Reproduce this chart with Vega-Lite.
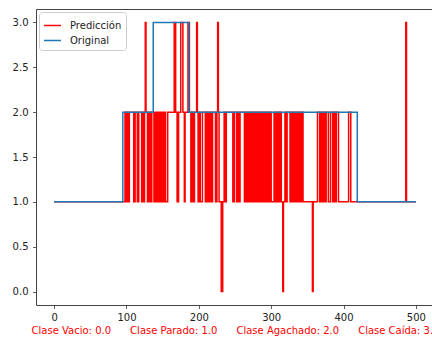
{
  "$schema": "https://vega.github.io/schema/vega-lite/v6.json",
  "width": 398,
  "height": 296,
  "autosize": {"type": "none"},
  "padding": {"left": 36, "top": 9, "right": 0, "bottom": 33},
  "config": {
    "font": "DejaVu Sans",
    "view": {"stroke": "#444", "strokeWidth": 1},
    "axis": {
      "grid": false,
      "domain": false,
      "tickColor": "#333",
      "tickSize": 3.5,
      "tickWidth": 0.8,
      "labelFontSize": 10,
      "labelColor": "#222",
      "labelFont": "DejaVu Sans"
    }
  },
  "encoding": {
    "x": {
      "field": "muestra",
      "type": "quantitative",
      "scale": {"domain": [-25, 525], "nice": false, "zero": false},
      "axis": {
        "values": [0, 100, 200, 300, 400, 500],
        "labelPadding": 3.5,
        "title": "Clase Vacio: 0.0\u00a0\u00a0\u00a0\u00a0\u00a0\u00a0Clase Parado: 1.0\u00a0\u00a0\u00a0\u00a0\u00a0\u00a0Clase Agachado: 2.0\u00a0\u00a0\u00a0\u00a0\u00a0\u00a0Clase Caída: 3.0",
        "titleColor": "red",
        "titleFontSize": 10,
        "titleFontWeight": "normal",
        "titleFont": "DejaVu Sans",
        "titlePadding": 3
      }
    },
    "y": {
      "field": "clase",
      "type": "quantitative",
      "scale": {"domain": [-0.15, 3.15], "nice": false, "zero": false},
      "axis": {
        "values": [0, 0.5, 1, 1.5, 2, 2.5, 3],
        "format": ".1f",
        "labelPadding": 4.5,
        "title": null
      }
    },
    "color": {
      "field": "serie",
      "type": "nominal",
      "scale": {"domain": ["Predicción", "Original"], "range": ["#ff0000", "#1f77b4"]},
      "legend": {
        "title": null,
        "orient": "top-left",
        "offset": 3,
        "fillColor": "white",
        "strokeColor": "#cccccc",
        "cornerRadius": 3,
        "padding": 4,
        "symbolType": "stroke",
        "symbolSize": 289,
        "symbolStrokeWidth": 1.5,
        "labelFontSize": 10,
        "labelColor": "#222",
        "labelFont": "DejaVu Sans",
        "labelOffset": 8,
        "rowPadding": 0
      }
    }
  },
  "layer": [
    {
      "data": {
        "values": [
          {"serie": "Predicción", "muestra": 0, "clase": 1},
          {"serie": "Predicción", "muestra": 98, "clase": 2},
          {"serie": "Predicción", "muestra": 99, "clase": 1},
          {"serie": "Predicción", "muestra": 100, "clase": 2},
          {"serie": "Predicción", "muestra": 102, "clase": 1},
          {"serie": "Predicción", "muestra": 104, "clase": 2},
          {"serie": "Predicción", "muestra": 110, "clase": 1},
          {"serie": "Predicción", "muestra": 112, "clase": 2},
          {"serie": "Predicción", "muestra": 115, "clase": 1},
          {"serie": "Predicción", "muestra": 117, "clase": 2},
          {"serie": "Predicción", "muestra": 121, "clase": 1},
          {"serie": "Predicción", "muestra": 122, "clase": 2},
          {"serie": "Predicción", "muestra": 123, "clase": 1},
          {"serie": "Predicción", "muestra": 125, "clase": 2},
          {"serie": "Predicción", "muestra": 126, "clase": 3},
          {"serie": "Predicción", "muestra": 127, "clase": 2},
          {"serie": "Predicción", "muestra": 129, "clase": 1},
          {"serie": "Predicción", "muestra": 131, "clase": 2},
          {"serie": "Predicción", "muestra": 133, "clase": 1},
          {"serie": "Predicción", "muestra": 135, "clase": 2},
          {"serie": "Predicción", "muestra": 138, "clase": 1},
          {"serie": "Predicción", "muestra": 139, "clase": 2},
          {"serie": "Predicción", "muestra": 140, "clase": 1},
          {"serie": "Predicción", "muestra": 142, "clase": 2},
          {"serie": "Predicción", "muestra": 144, "clase": 1},
          {"serie": "Predicción", "muestra": 146, "clase": 2},
          {"serie": "Predicción", "muestra": 148, "clase": 1},
          {"serie": "Predicción", "muestra": 149, "clase": 2},
          {"serie": "Predicción", "muestra": 150, "clase": 1},
          {"serie": "Predicción", "muestra": 152, "clase": 2},
          {"serie": "Predicción", "muestra": 154, "clase": 1},
          {"serie": "Predicción", "muestra": 157, "clase": 2},
          {"serie": "Predicción", "muestra": 166, "clase": 3},
          {"serie": "Predicción", "muestra": 168, "clase": 2},
          {"serie": "Predicción", "muestra": 170, "clase": 1},
          {"serie": "Predicción", "muestra": 172, "clase": 2},
          {"serie": "Predicción", "muestra": 175, "clase": 3},
          {"serie": "Predicción", "muestra": 178, "clase": 2},
          {"serie": "Predicción", "muestra": 180, "clase": 1},
          {"serie": "Predicción", "muestra": 181, "clase": 2},
          {"serie": "Predicción", "muestra": 185, "clase": 3},
          {"serie": "Predicción", "muestra": 187, "clase": 2},
          {"serie": "Predicción", "muestra": 189, "clase": 1},
          {"serie": "Predicción", "muestra": 191, "clase": 2},
          {"serie": "Predicción", "muestra": 192, "clase": 1},
          {"serie": "Predicción", "muestra": 194, "clase": 2},
          {"serie": "Predicción", "muestra": 197, "clase": 3},
          {"serie": "Predicción", "muestra": 198, "clase": 2},
          {"serie": "Predicción", "muestra": 199, "clase": 1},
          {"serie": "Predicción", "muestra": 201, "clase": 2},
          {"serie": "Predicción", "muestra": 202, "clase": 1},
          {"serie": "Predicción", "muestra": 205, "clase": 2},
          {"serie": "Predicción", "muestra": 209, "clase": 1},
          {"serie": "Predicción", "muestra": 210, "clase": 2},
          {"serie": "Predicción", "muestra": 211, "clase": 1},
          {"serie": "Predicción", "muestra": 212, "clase": 2},
          {"serie": "Predicción", "muestra": 214, "clase": 1},
          {"serie": "Predicción", "muestra": 216, "clase": 2},
          {"serie": "Predicción", "muestra": 217, "clase": 1},
          {"serie": "Predicción", "muestra": 219, "clase": 2},
          {"serie": "Predicción", "muestra": 223, "clase": 1},
          {"serie": "Predicción", "muestra": 225, "clase": 2},
          {"serie": "Predicción", "muestra": 226, "clase": 3},
          {"serie": "Predicción", "muestra": 227, "clase": 2},
          {"serie": "Predicción", "muestra": 228, "clase": 1},
          {"serie": "Predicción", "muestra": 231, "clase": 0},
          {"serie": "Predicción", "muestra": 233, "clase": 1},
          {"serie": "Predicción", "muestra": 235, "clase": 2},
          {"serie": "Predicción", "muestra": 236, "clase": 1},
          {"serie": "Predicción", "muestra": 238, "clase": 2},
          {"serie": "Predicción", "muestra": 247, "clase": 1},
          {"serie": "Predicción", "muestra": 249, "clase": 2},
          {"serie": "Predicción", "muestra": 252, "clase": 1},
          {"serie": "Predicción", "muestra": 254, "clase": 2},
          {"serie": "Predicción", "muestra": 255, "clase": 1},
          {"serie": "Predicción", "muestra": 257, "clase": 2},
          {"serie": "Predicción", "muestra": 263, "clase": 1},
          {"serie": "Predicción", "muestra": 265, "clase": 2},
          {"serie": "Predicción", "muestra": 266, "clase": 1},
          {"serie": "Predicción", "muestra": 267, "clase": 2},
          {"serie": "Predicción", "muestra": 269, "clase": 1},
          {"serie": "Predicción", "muestra": 271, "clase": 2},
          {"serie": "Predicción", "muestra": 272, "clase": 1},
          {"serie": "Predicción", "muestra": 273, "clase": 2},
          {"serie": "Predicción", "muestra": 275, "clase": 1},
          {"serie": "Predicción", "muestra": 277, "clase": 2},
          {"serie": "Predicción", "muestra": 278, "clase": 1},
          {"serie": "Predicción", "muestra": 279, "clase": 2},
          {"serie": "Predicción", "muestra": 281, "clase": 1},
          {"serie": "Predicción", "muestra": 283, "clase": 2},
          {"serie": "Predicción", "muestra": 284, "clase": 1},
          {"serie": "Predicción", "muestra": 285, "clase": 2},
          {"serie": "Predicción", "muestra": 287, "clase": 1},
          {"serie": "Predicción", "muestra": 289, "clase": 2},
          {"serie": "Predicción", "muestra": 291, "clase": 1},
          {"serie": "Predicción", "muestra": 293, "clase": 2},
          {"serie": "Predicción", "muestra": 294, "clase": 1},
          {"serie": "Predicción", "muestra": 296, "clase": 2},
          {"serie": "Predicción", "muestra": 297, "clase": 1},
          {"serie": "Predicción", "muestra": 299, "clase": 2},
          {"serie": "Predicción", "muestra": 300, "clase": 1},
          {"serie": "Predicción", "muestra": 304, "clase": 2},
          {"serie": "Predicción", "muestra": 305, "clase": 1},
          {"serie": "Predicción", "muestra": 307, "clase": 2},
          {"serie": "Predicción", "muestra": 308, "clase": 1},
          {"serie": "Predicción", "muestra": 310, "clase": 2},
          {"serie": "Predicción", "muestra": 311, "clase": 1},
          {"serie": "Predicción", "muestra": 313, "clase": 2},
          {"serie": "Predicción", "muestra": 314, "clase": 1},
          {"serie": "Predicción", "muestra": 316, "clase": 0},
          {"serie": "Predicción", "muestra": 317, "clase": 1},
          {"serie": "Predicción", "muestra": 319, "clase": 2},
          {"serie": "Predicción", "muestra": 320, "clase": 1},
          {"serie": "Predicción", "muestra": 322, "clase": 2},
          {"serie": "Predicción", "muestra": 326, "clase": 1},
          {"serie": "Predicción", "muestra": 328, "clase": 2},
          {"serie": "Predicción", "muestra": 329, "clase": 1},
          {"serie": "Predicción", "muestra": 331, "clase": 2},
          {"serie": "Predicción", "muestra": 332, "clase": 1},
          {"serie": "Predicción", "muestra": 333, "clase": 2},
          {"serie": "Predicción", "muestra": 335, "clase": 1},
          {"serie": "Predicción", "muestra": 337, "clase": 2},
          {"serie": "Predicción", "muestra": 338, "clase": 1},
          {"serie": "Predicción", "muestra": 340, "clase": 2},
          {"serie": "Predicción", "muestra": 341, "clase": 1},
          {"serie": "Predicción", "muestra": 343, "clase": 2},
          {"serie": "Predicción", "muestra": 344, "clase": 1},
          {"serie": "Predicción", "muestra": 357, "clase": 0},
          {"serie": "Predicción", "muestra": 358, "clase": 1},
          {"serie": "Predicción", "muestra": 364, "clase": 2},
          {"serie": "Predicción", "muestra": 367, "clase": 1},
          {"serie": "Predicción", "muestra": 369, "clase": 2},
          {"serie": "Predicción", "muestra": 371, "clase": 1},
          {"serie": "Predicción", "muestra": 373, "clase": 2},
          {"serie": "Predicción", "muestra": 375, "clase": 1},
          {"serie": "Predicción", "muestra": 376, "clase": 2},
          {"serie": "Predicción", "muestra": 379, "clase": 1},
          {"serie": "Predicción", "muestra": 382, "clase": 2},
          {"serie": "Predicción", "muestra": 385, "clase": 1},
          {"serie": "Predicción", "muestra": 387, "clase": 2},
          {"serie": "Predicción", "muestra": 389, "clase": 1},
          {"serie": "Predicción", "muestra": 390, "clase": 2},
          {"serie": "Predicción", "muestra": 393, "clase": 1},
          {"serie": "Predicción", "muestra": 407, "clase": 2},
          {"serie": "Predicción", "muestra": 410, "clase": 1},
          {"serie": "Predicción", "muestra": 486, "clase": 3},
          {"serie": "Predicción", "muestra": 487, "clase": 1},
          {"serie": "Predicción", "muestra": 500, "clase": 1}
        ]
      },
      "mark": {"type": "line", "interpolate": "step-after", "strokeWidth": 1.5, "clip": true}
    },
    {
      "data": {
        "values": [
          {"serie": "Original", "muestra": 0, "clase": 1},
          {"serie": "Original", "muestra": 95, "clase": 2},
          {"serie": "Original", "muestra": 137, "clase": 3},
          {"serie": "Original", "muestra": 186, "clase": 2},
          {"serie": "Original", "muestra": 419, "clase": 1},
          {"serie": "Original", "muestra": 500, "clase": 1}
        ]
      },
      "mark": {"type": "line", "interpolate": "step-after", "strokeWidth": 1.5, "clip": true}
    }
  ]
}
